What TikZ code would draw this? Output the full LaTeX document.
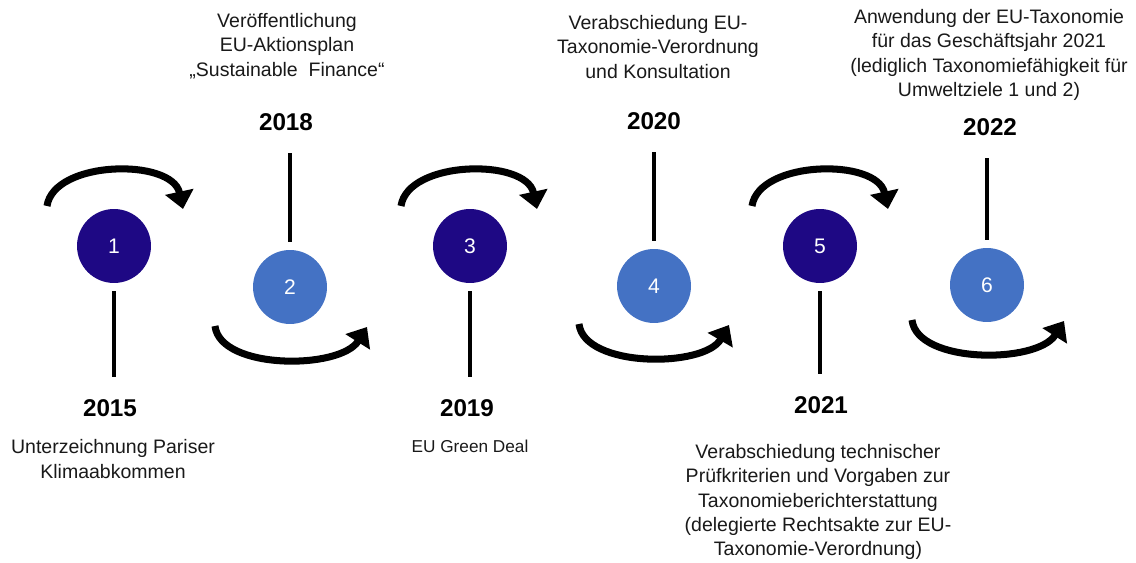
\documentclass[tikz,border=0pt]{standalone}
\usepackage{fontspec}
\setmainfont{Liberation Sans}
\usetikzlibrary{arrows.meta}
\definecolor{navy}{RGB}{30,8,132}
\definecolor{lightblue}{RGB}{68,114,196}

\begin{document}
\begin{tikzpicture}[x=0.02cm, y=-0.02cm,
        dot/.style={circle, minimum size=1.48cm, inner sep=0pt, text=white, font=\fontsize{12}{14}\selectfont},
        year/.style={inner sep=0pt, font=\fontsize{13.8}{16}\selectfont\bfseries},
        note/.style={align=center, text=black!90, font=\fontsize{11.1}{13.8}\selectfont},
        stem/.style={line width=2.2pt, shorten <=0.16cm, shorten >=0.44cm},
        swing/.style={line width=4pt, -{Triangle[width=16pt,length=10pt]}}]
        \useasboundingbox (0,0) rectangle (1136,563);

        % Circles
        \node[dot, fill=navy] (c1) at (114,246) {1};
        \node[dot, fill=lightblue] (c2) at (290,287) {2};
        \node[dot, fill=navy] (c3) at (470,246) {3};
        \node[dot, fill=lightblue] (c4) at (654,286) {4};
        \node[dot, fill=navy] (c5) at (820,246) {5};
        \node[dot, fill=lightblue] (c6) at (987,285) {6};

        % Years
        \node[year] (y15) at (110,408) {2015};
        \node[year] (y18) at (286,122) {2018};
        \node[year] (y19) at (467,408) {2019};
        \node[year] (y20) at (654,121) {2020};
        \node[year] (y21) at (821,405) {2021};
        \node[year] (y22) at (990,127) {2022};

        % Texts
        \node[note] (t15) at (113,459) {Unterzeichnung Pariser\\Klimaabkommen};
        \node[note] (t18) at (287,46) {Veröffentlichung\\EU-Aktionsplan\\„Sustainable~ Finance“};
        \node[note, font=\fontsize{9.8}{12}\selectfont] (t19) at (470,446) {EU Green Deal};
        \node[note] (t20) at (658,47) {Verabschiedung EU-\\Taxonomie-Verordnung\\und Konsultation};
        \node[note] (t21) at (818,502) {Verabschiedung technischer\\Prüfkriterien und Vorgaben zur\\Taxonomieberichterstattung\\(delegierte Rechtsakte zur EU-\\Taxonomie-Verordnung)};
        \node[note] (t22) at (989,55) {Anwendung der EU-Taxonomie\\für das Geschäftsjahr 2021\\(lediglich Taxonomiefähigkeit für\\Umweltziele 1 und 2)};

        % Stems
        \draw[stem] (c1.south) -- (c1 |- y15.north);
        \draw[stem] (c2.north) -- (c2 |- y18.south);
        \draw[stem] (c3.south) -- (c3 |- y19.north);
        \draw[stem] (c4.north) -- (c4 |- y20.south);
        \draw[stem] (c5.south) -- (c5 |- y21.north);
        \draw[stem] (c6.north) -- (c6 |- y22.south);

        % Arrow ends
        \coordinate (a1) at (47,206);   \coordinate (b1) at (183,209);
        \coordinate (a2) at (215,326);  \coordinate (b2) at (367,327);
        \coordinate (a3) at (401,206);  \coordinate (b3) at (537,209);
        \coordinate (a4) at (579,324);  \coordinate (b4) at (729,325);
        \coordinate (a5) at (752,206);  \coordinate (b5) at (888,209);
        \coordinate (a6) at (912,320);  \coordinate (b6) at (1064,321);

        % Arrows
        \draw[swing] (a1) .. controls (54,160) and (172,158) .. (b1);
        \draw[swing] (a2) .. controls (220,370) and (340,370) .. (b2);
        \draw[swing] (a3) .. controls (408,160) and (526,158) .. (b3);
        \draw[swing] (a4) .. controls (584,368) and (704,368) .. (b4);
        \draw[swing] (a5) .. controls (759,160) and (877,158) .. (b5);
        \draw[swing] (a6) .. controls (917,364) and (1037,364) .. (b6);

    \end{tikzpicture}
\end{document}
